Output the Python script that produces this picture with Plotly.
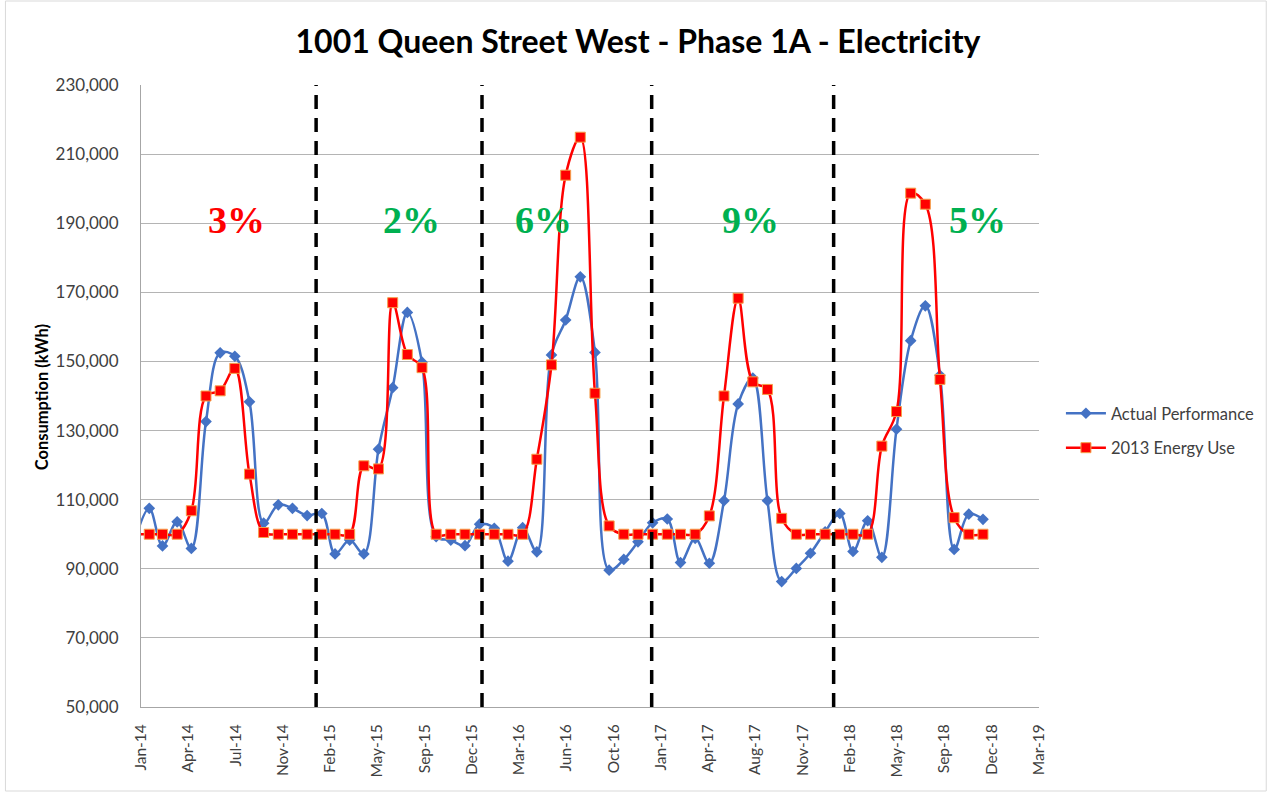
import pandas as pd
import plotly.graph_objects as go

# ---------------- data ----------------
# Dec-13 is just left of the axis start (only its connecting segment is visible)
months = pd.date_range("2013-12-31", periods=60, freq="ME")

actual_performance = [
    98000,
    107500, 96600, 103600, 95900, 132600, 152500, 151500, 138300, 103200, 108500, 107500, 105400,
    106000, 94300, 98300, 94300, 124600, 142400, 164200, 149800, 99300, 98300, 96700, 102900,
    101700, 92200, 101900, 94900, 151900, 162000, 174500, 152600, 89600, 92700, 97800, 103300,
    104400, 91800, 98800, 91600, 109700, 137700, 145200, 109700, 86300, 90100, 94500, 100700,
    106000, 95000, 103900, 93300, 130400, 156000, 166100, 146000, 95600, 105800, 104300,
]

energy_2013 = [
    100000,
    100000, 100000, 100000, 106800, 140000, 141500, 148000, 117400, 100500, 100000, 100000, 100000,
    100000, 100000, 100000, 119800, 118900, 167000, 152000, 148200, 100000, 100000, 100000, 100000,
    100000, 100000, 100000, 121700, 149000, 203900, 214900, 140800, 102400, 100000, 100000, 100000,
    100000, 100000, 100000, 105300, 140000, 168300, 144100, 141900, 104600, 100000, 100000, 100000,
    100000, 100000, 100000, 125500, 135500, 198700, 195500, 144800, 104800, 100000, 100000,
]

tick_labels = ["Jan-14", "Apr-14", "Jul-14", "Nov-14", "Feb-15", "May-15", "Sep-15", "Dec-15",
               "Mar-16", "Jun-16", "Oct-16", "Jan-17", "Apr-17", "Aug-17", "Nov-17", "Feb-18",
               "May-18", "Sep-18", "Dec-18", "Mar-19"]

pct_labels = ["3%", "2%", "6%", "9%", "5%"]
pct_colors = ["#FF0000", "#00B050", "#00B050", "#00B050", "#00B050"]
pct_x = [0.1065, 0.301, 0.448, 0.679, 0.931]

separator_dates = ["2015-01-19", "2016-01-05", "2016-12-29", "2018-01-18"]

# ---------------- axis geometry ----------------
x_min = pd.Timestamp("2014-01-13 12:00")
tick_step = pd.Timedelta(days=100)
tickvals = [x_min + i * tick_step for i in range(len(tick_labels))]
x_max = tickvals[-1]

W, H = 1272, 793
ML, MT, PW, PH = 141, 85, 901, 622

fig = go.Figure()

fig.add_trace(go.Scatter(
    x=months, y=actual_performance, name="Actual Performance", legendgroup="a",
    mode="lines+markers", cliponaxis=True,
    line=dict(color="#4472C4", width=2.5, shape="spline", smoothing=1.0),
    marker=dict(symbol="diamond", size=9, color="#4472C4"),
))
fig.add_trace(go.Scatter(
    x=months, y=energy_2013, name="2013 Energy Use", legendgroup="b",
    mode="lines+markers", cliponaxis=True,
    line=dict(color="#FF0000", width=2.5, shape="spline", smoothing=1.0),
    marker=dict(symbol="square", size=10, color="#FF0000",
                line=dict(color="#F5A04A", width=1)),
))

for d in separator_dates:
    fig.add_shape(type="line", xref="x", yref="paper", x0=d, x1=d, y0=0, y1=1,
                  line=dict(color="black", width=3.5, dash="14px,9px"))

for t, c, xp in zip(pct_labels, pct_colors, pct_x):
    fig.add_annotation(text=t, xref="paper", yref="paper", x=xp, y=0.783,
                       xanchor="center", yanchor="middle", showarrow=False,
                       font=dict(family="Liberation Serif", size=38, color=c, weight="bold"))

fig.add_annotation(text="Consumption (kWh)", xref="paper", yref="paper",
                   x=(42 - ML) / PW, y=(MT + PH - 397) / PH, textangle=-90,
                   xanchor="center", yanchor="middle", showarrow=False,
                   font=dict(family="Lato", size=16.5, color="black", weight="bold"))

# chart border
fig.add_shape(type="rect", xref="paper", yref="paper",
              x0=(5 - ML) / PW, x1=(W - 2 - ML) / PW,
              y0=(MT + PH - (H - 2)) / PH, y1=(MT + PH - 1) / PH,
              line=dict(color="#D9D9D9", width=1))

fig.update_layout(
    width=W, height=H,
    margin=dict(l=ML, r=W - ML - PW, t=MT, b=H - MT - PH),
    paper_bgcolor="white", plot_bgcolor="white",
    font=dict(family="Lato", color="#404040"),
    title=dict(text="<b>1001 Queen Street West - Phase 1A - Electricity</b>",
               x=638 / W, xanchor="center", y=1 - 42 / H, yanchor="middle",
               font=dict(family="Lato", size=32, color="black")),
    legend=dict(x=(1064 - ML) / PW, y=(MT + PH - 430.5) / PH, xanchor="left", yanchor="middle",
                font=dict(family="Lato", size=16.5, color="#404040"),
                bgcolor="rgba(0,0,0,0)", tracegroupgap=10, itemwidth=40),
    showlegend=True,
)

fig.update_xaxes(
    type="date", range=[x_min, x_max],
    tickmode="array", tickvals=tickvals, ticktext=tick_labels,
    tickangle=-90, tickfont=dict(family="Lato", size=15.5, color="#404040"),
    showgrid=False, showline=True, linecolor="#A6A6A6", linewidth=1,
    ticks="outside", ticklen=10, tickcolor="rgba(0,0,0,0)", zeroline=False,
)
fig.update_yaxes(
    range=[50000, 230000], dtick=20000, tick0=50000, tickformat=",",
    tickfont=dict(family="Lato", size=17, color="#404040"),
    showgrid=True, gridcolor="#B4B4B4", gridwidth=1,
    showline=True, linecolor="#A6A6A6", linewidth=1,
    ticks="outside", ticklen=18, tickcolor="rgba(0,0,0,0)", zeroline=False,
)

fig.write_html(
    "out.html",
    config={"displayModeBar": False},
    post_script="document.body.style.margin='0';document.body.style.overflow='hidden';",
)
